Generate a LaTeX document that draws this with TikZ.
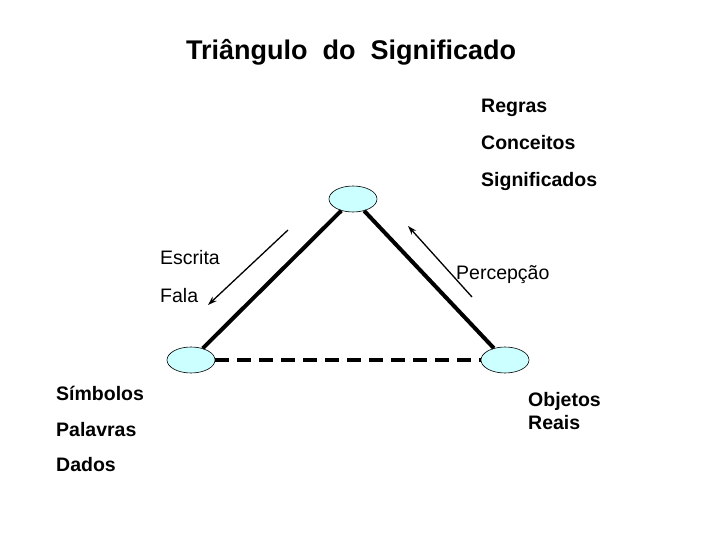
\documentclass[tikz,border=0pt]{standalone}
\usepackage{fontspec}
\setmainfont{Liberation Sans}
\usepackage{xcolor}
\usetikzlibrary{shapes.geometric,arrows.meta}
\definecolor{bubble}{HTML}{CCFFFF}
\tikzset{
  vertex/.style={ellipse, draw=black, line width=0.6pt, fill=bubble,
    minimum width=48bp, minimum height=26bp, inner sep=0pt},
  side/.style={draw=black, line width=4bp},
  base/.style={draw=black, line width=4bp, dash pattern=on 14bp off 8bp},
  flow/.style={-{Stealth[length=9bp,width=6bp]}, draw=black, line width=1.3bp},
  lab/.style={anchor=base west, inner sep=0pt, font=\fontsize{19.5bp}{22bp}\selectfont\bfseries},
  thin/.style={anchor=base west, inner sep=0pt, font=\fontsize{19.5bp}{22bp}\selectfont},
  head/.style={anchor=base, inner sep=0pt, font=\fontsize{27bp}{30bp}\selectfont\bfseries}
}

\begin{document}
\begin{tikzpicture}[x=1bp, y=-1bp]
  \useasboundingbox (0,0) rectangle (720,540);

  \node[head] (title) at (351,60) {Triângulo\ \ do\ \ Significado};

  % the three corners
  \node[vertex] (T) at (353,199) {};
  \node[vertex] (L) at (191,360) {};
  \node[vertex] (R) at (505,360) {};

  \draw[side] (L) -- (T);
  \draw[side] (T) -- (R);
  \draw[base] (L) -- (R);

  % arrows beside the sides
  \coordinate (e1) at (288,230);
  \coordinate (e2) at (208,305);
  \coordinate (p1) at (472,297);
  \coordinate (p2) at (408,226);
  \draw[flow] (e1) -- (e2);
  \draw[flow] (p1) -- (p2);

  \node[lab] (regras) at (481,113) {Regras};
  \node[lab] (conceitos) at (481,150) {Conceitos};
  \node[lab] (signif) at (481,187) {Significados};

  \node[thin] (escrita) at (160,265) {Escrita};
  \node[thin] (fala) at (160,302) {Fala};
  \node[thin] (percep) at (456,280) {Percepção};

  \node[lab] (simb) at (56,400) {Símbolos};
  \node[lab] (palav) at (56,436) {Palavras};
  \node[lab] (dados) at (56,471) {Dados};

  \node[lab] (obj) at (528,406) {Objetos};
  \node[lab] (reais) at (528,429) {Reais};
\end{tikzpicture}
\end{document}
